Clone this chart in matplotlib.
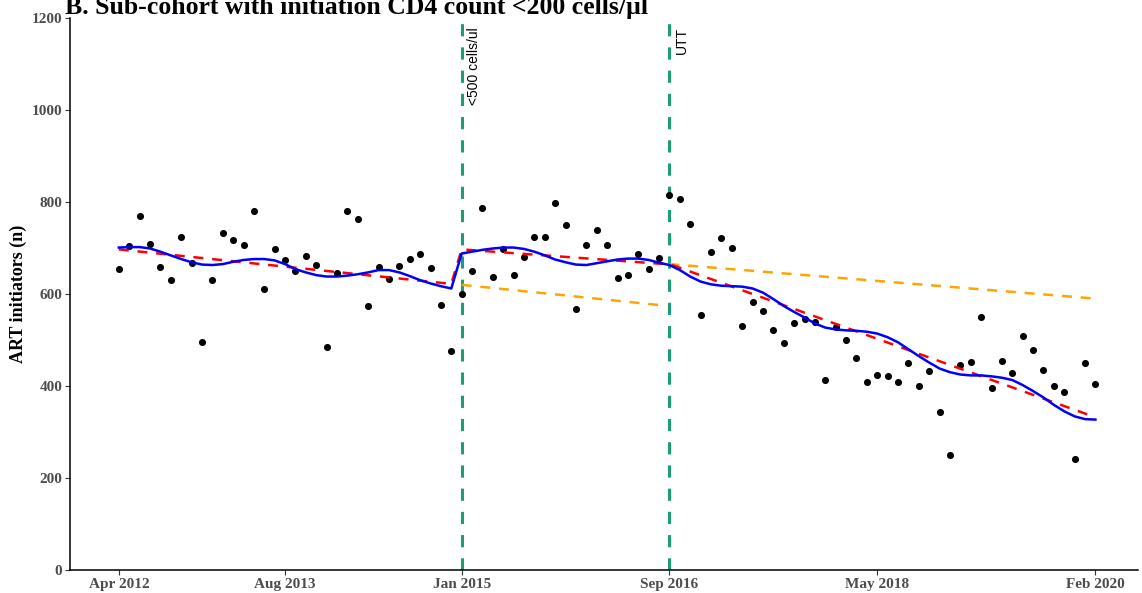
# Interrupted time series - sub-cohort with CD4 <200
import numpy as np
import matplotlib
matplotlib.use('Agg')
import matplotlib.pyplot as plt

# Data (monthly, month 0 = Apr 2012)
months = np.arange(95)
art_initiators = [654, 704, 769, 709, 659, 630, 724, 667, 495, 631,
                  732, 717, 706, 780, 610, 698, 675, 651, 682, 664,
                  485, 646, 780, 764, 575, 659, 632, 661, 676, 688,
                  657, 577, 476, 599, 651, 786, 636, 697, 641, 681,
                  723, 725, 797, 751, 567, 707, 740, 706, 634, 641,
                  686, 654, 678, 816, 806, 753, 554, 692, 722, 701,
                  530, 583, 564, 522, 493, 537, 546, 539, 412, 529,
                  499, 460, 408, 424, 421, 409, 450, 401, 432, 344,
                  250, 445, 452, 551, 395, 455, 429, 509, 479, 435,
                  399, 387, 241, 451, 404]

# seasonal model fit (blue)
seasonal_fit = [701, 702, 702, 699, 692, 684, 676, 669, 664, 663,
                665, 670, 674, 676, 676, 673, 665, 654, 647, 641,
                638, 638, 640, 643, 647, 652, 652, 647, 639, 630,
                623, 617, 612, 688, 692, 696, 699, 701, 701, 698,
                692, 684, 675, 669, 664, 663, 667, 671, 675, 677,
                677, 674, 668, 663, 652, 638, 627, 621, 618, 617,
                616, 612, 603, 589, 574, 561, 549, 536, 527, 523,
                521, 520, 518, 514, 506, 495, 480, 465, 451, 438,
                430, 425, 423, 423, 421, 418, 413, 402, 389, 375,
                359, 345, 334, 328, 327]

# segmented linear trend (red)
trend_months = [0, 32, 33, 52, 53, 94]
trend_values = [697, 622, 697, 666, 665, 332]

# counterfactual trends (orange)
cf1_months = [33, 52]
cf1_values = [620, 576]
cf2_months = [53, 94]
cf2_values = [665, 590]

# interventions
interventions = [33, 53]
intervention_labels = ['<500 cells/ul', 'UTT']

tick_months = [0, 16, 33, 53, 73, 94]
tick_labels = ['Apr 2012', 'Aug 2013', 'Jan 2015', 'Sep 2016', 'May 2018', 'Feb 2020']

# Plot
fig = plt.figure(figsize=(11.42, 5.93), dpi=100)
ax = fig.add_axes([0.0613, 0.0388, 0.9352, 0.9308])

for m, lab in zip(interventions, intervention_labels):
    ax.axvline(m, color='#1B9E77', lw=2.2, dashes=(4, 3.6), zorder=1)
    ax.text(m + 0.5, 1180, lab, rotation=90, ha='left', va='top',
            fontsize=10, family='Liberation Sans', color='black')

ax.scatter(months, art_initiators, s=26, color='black', zorder=3, linewidths=0)
ax.plot(cf1_months, cf1_values, color='orange', lw=1.8, dashes=(4, 3.5), zorder=2)
ax.plot(cf2_months, cf2_values, color='orange', lw=1.8, dashes=(4, 3.5), zorder=2)
ax.plot(trend_months, trend_values, color='red', lw=1.8, dashes=(4, 3.5), zorder=4)
ax.plot(months, seasonal_fit, color='blue', lw=1.8, zorder=4)

ax.set_xlim(-4.7, 98.1)
ax.set_ylim(0, 1200)
ax.set_xticks(tick_months)
ax.set_xticklabels(tick_labels)
ax.set_yticks([0, 200, 400, 600, 800, 1000, 1200])

for s in ['top', 'right']:
    ax.spines[s].set_visible(False)
for s in ['left', 'bottom']:
    ax.spines[s].set_linewidth(1.1)

ax.tick_params(axis='both', length=3.5, width=0.8, color='#333333', labelcolor='#4D4D4D',
               labelsize=11, pad=2)
for lab in ax.get_xticklabels() + ax.get_yticklabels():
    lab.set_family('Liberation Serif')
    lab.set_fontweight('bold')

ax.set_ylabel('ART initiators (n)', family='Liberation Serif', fontweight='bold', fontsize=13)
ax.yaxis.set_label_coords(-0.0405, 0.5)

# title sits partly above the top edge, as in the original figure
fig.text(0.057, 1 - 14 / 593, 'B. Sub-cohort with initiation CD4 count <200 cells/\u00b5l',
         family='Liberation Serif', fontweight='bold', fontsize=18.5, va='baseline', ha='left')

plt.savefig('out.png', dpi=100)
